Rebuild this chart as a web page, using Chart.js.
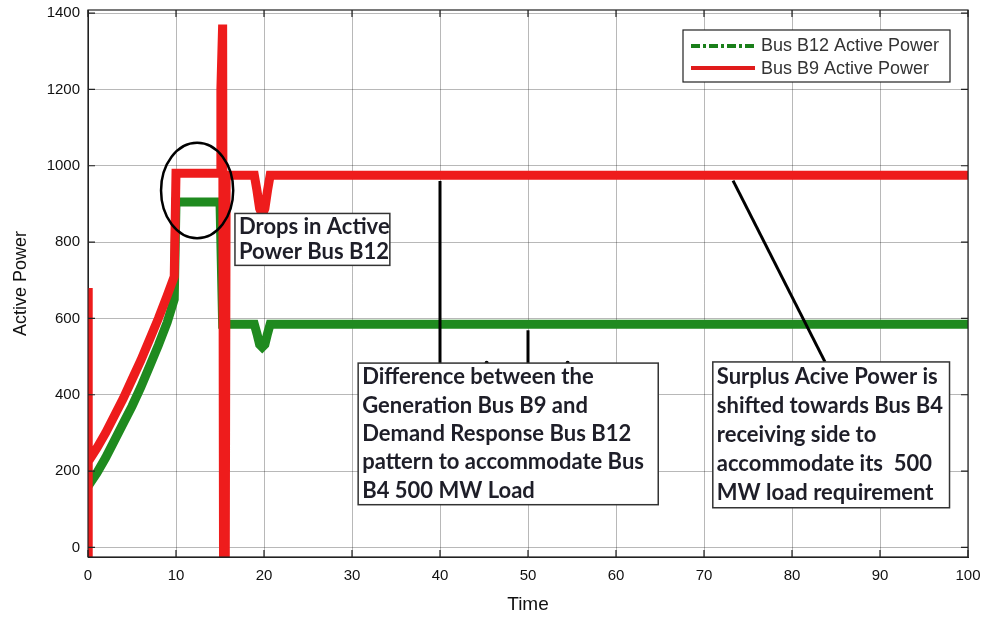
<!DOCTYPE html>
<html>
<head>
<meta charset="utf-8">
<script src="https://cdn.jsdelivr.net/npm/chart.js@4.4.1/dist/chart.umd.min.js"></script>
<style>
  html, body { margin:0; padding:0; background:#fff; }
  #wrap { width:987px; height:620px; }
</style>
</head>
<body>
<div id="wrap"><canvas id="powerChart" width="987" height="620"></canvas></div>
<script>
// Bus B9 (generation) active power vs time
const timeB9  = [0, 0, 0.05, 1, 2, 3, 4, 5, 6, 7, 8, 9, 9.8, 10, 15, 15.1, 15.3, 15.4, 15.6, 15.7,
                 18.9, 19.2, 19.5, 19.8, 20.1, 20.4, 20.7, 100];
const powerB9 = [-25, 680, 225, 260, 300, 345, 390, 440, 490, 545, 600, 660, 710, 980, 980, 1200, 1370, -25, -25, 975,
                 975, 935, 888, 872, 888, 935, 975, 975];

// Bus B12 (demand response) active power vs time
const timeB12  = [0, 1, 2, 3, 4, 5, 6, 7, 8, 9, 9.8, 10, 15, 15.3, 18.9, 19.2, 19.5, 19.8, 20.1, 20.4, 20.7, 100];
const powerB12 = [160, 195, 235, 280, 325, 370, 420, 475, 530, 590, 650, 905, 905, 585, 585, 560, 532, 525, 532, 560, 585, 585];

const seriesNames = ['Bus B12 Active Power', 'Bus B9 Active Power'];
const yTicks = [0, 200, 400, 600, 800, 1000, 1200, 1400];

// callouts, in data units
const ellipseMark = { t: 12.4, v: 935, rt: 4.1, rv: 125 };
const dropsBox = { t0: 16.7, t1: 34.3, v0: 875, v1: 739,
  lines: ['Drops in Active', 'Power Bus B12'] };
const diffBox = { t0: 30.7, t1: 64.8, v0: 483, v1: 112,
  lines: ['Difference between the', 'Generation Bus B9 and', 'Demand Response Bus B12',
          'pattern to accommodate Bus', 'B4 500 MW Load'] };
const surplusBox = { t0: 71.0, t1: 97.9, v0: 486, v1: 104,
  lines: ['Surplus Acive Power is', 'shifted towards Bus B4', 'receiving side to',
          'accommodate its  500', 'MW load requirement'] };
const leaders = [
  [40, 478, 40, 960],
  [50, 478, 50, 569],
  [83.75, 486, 73.3, 961]
];
const dots = [[45.3, 484], [54.5, 484]];

const pts = (ts, vs) => ts.map((t, i) => ({ x: t, y: vs[i] }));

function textBox(ctx, xs, ys, b) {
  const x0 = xs.getPixelForValue(b.t0), x1 = xs.getPixelForValue(b.t1);
  const y0 = ys.getPixelForValue(b.v0), y1 = ys.getPixelForValue(b.v1);
  ctx.fillStyle = '#fff';
  ctx.fillRect(x0, y0, x1 - x0, y1 - y0);
  ctx.strokeStyle = '#333';
  ctx.lineWidth = 1.5;
  ctx.strokeRect(x0, y0, x1 - x0, y1 - y0);
  ctx.fillStyle = '#1e1e28';
  ctx.font = 'bold 22px Lato';
  ctx.textBaseline = 'middle';
  ctx.textAlign = 'left';
  const step = (y1 - y0) / b.lines.length;
  b.lines.forEach((s, i) => ctx.fillText(s, x0 + 4, y0 + step * (i + 0.5)));
}

const callouts = {
  id: 'callouts',
  afterDatasetsDraw(chart) {
    const { ctx, chartArea: a } = chart;
    const xs = chart.scales.x, ys = chart.scales.y;
    ctx.save();
    // leader lines
    ctx.strokeStyle = '#000';
    ctx.lineWidth = 3;
    leaders.forEach(l => {
      ctx.beginPath();
      ctx.moveTo(xs.getPixelForValue(l[0]), ys.getPixelForValue(l[1]));
      ctx.lineTo(xs.getPixelForValue(l[2]), ys.getPixelForValue(l[3]));
      ctx.stroke();
    });
    ctx.fillStyle = '#000';
    dots.forEach(d => {
      ctx.beginPath();
      ctx.arc(xs.getPixelForValue(d[0]), ys.getPixelForValue(d[1]), 2, 0, Math.PI * 2);
      ctx.fill();
    });
    // ellipse around the B12 drop
    const cx = xs.getPixelForValue(ellipseMark.t), cy = ys.getPixelForValue(ellipseMark.v);
    const rx = xs.getPixelForValue(ellipseMark.t + ellipseMark.rt) - cx;
    const ry = cy - ys.getPixelForValue(ellipseMark.v + ellipseMark.rv);
    ctx.beginPath();
    ctx.ellipse(cx, cy, rx, ry, 0, 0, Math.PI * 2);
    ctx.lineWidth = 2.5;
    ctx.stroke();

    textBox(ctx, xs, ys, dropsBox);
    textBox(ctx, xs, ys, diffBox);
    textBox(ctx, xs, ys, surplusBox);

    // frame and inward tick marks
    ctx.strokeStyle = '#222';
    ctx.lineWidth = 1.2;
    ctx.strokeRect(a.left, a.top, a.right - a.left, a.bottom - a.top);
    ctx.beginPath();
    xs.ticks.forEach(t => {
      const px = xs.getPixelForValue(t.value);
      ctx.moveTo(px, a.bottom); ctx.lineTo(px, a.bottom - 7);
      ctx.moveTo(px, a.top); ctx.lineTo(px, a.top + 7);
    });
    ys.ticks.forEach(t => {
      const py = ys.getPixelForValue(t.value);
      ctx.moveTo(a.left, py); ctx.lineTo(a.left + 7, py);
      ctx.moveTo(a.right, py); ctx.lineTo(a.right - 7, py);
    });
    ctx.stroke();

    // legend
    const lx = a.right - 285, ly = a.top + 20, lw = 267, lh = 52;
    ctx.fillStyle = '#fff';
    ctx.fillRect(lx, ly, lw, lh);
    ctx.strokeStyle = '#222';
    ctx.lineWidth = 1.2;
    ctx.strokeRect(lx, ly, lw, lh);
    ctx.lineWidth = 4;
    ctx.strokeStyle = '#1a7f1a';
    ctx.setLineDash([9, 3, 3, 3]);
    ctx.beginPath(); ctx.moveTo(lx + 8, ly + 16); ctx.lineTo(lx + 72, ly + 16); ctx.stroke();
    ctx.setLineDash([]);
    ctx.strokeStyle = '#e01b1b';
    ctx.beginPath(); ctx.moveTo(lx + 8, ly + 38); ctx.lineTo(lx + 72, ly + 38); ctx.stroke();
    ctx.fillStyle = '#333';
    ctx.font = '18px "Liberation Sans"';
    ctx.textBaseline = 'middle';
    ctx.fillText(seriesNames[0], lx + 78, ly + 16);
    ctx.fillText(seriesNames[1], lx + 78, ly + 39);
    ctx.restore();
  }
};

new Chart(document.getElementById('powerChart'), {
  type: 'line',
  data: {
    datasets: [
      { label: seriesNames[0], data: pts(timeB12, powerB12), borderColor: '#1f8a1f',
        borderWidth: 9, pointRadius: 0, tension: 0, order: 1 },
      { label: seriesNames[1], data: pts(timeB9, powerB9), borderColor: '#ee1c1c',
        borderWidth: 9, pointRadius: 0, tension: 0, order: 0 }
    ]
  },
  options: {
    responsive: false,
    animation: false,
    layout: { padding: { top: 10, right: 19, left: 6, bottom: 0 } },
    plugins: { legend: { display: false }, tooltip: { enabled: false } },
    scales: {
      x: {
        type: 'linear', min: 0, max: 100,
        ticks: { stepSize: 10, color: '#111', padding: 10, font: { family: 'Liberation Sans', size: 15 } },
        grid: { color: 'rgba(0,0,0,0.28)', drawTicks: false },
        border: { color: '#222' },
        title: { display: true, text: 'Time', color: '#111', padding: { top: 6 },
          font: { family: 'Liberation Sans', size: 19 } },
        afterFit: s => { s.height = 63; s.paddingLeft = 0; s.paddingRight = 0; }
      },
      y: {
        type: 'linear', min: -25, max: 1408,
        afterBuildTicks: s => { s.ticks = yTicks.map(v => ({ value: v })); },
        ticks: { color: '#111', padding: 8, font: { family: 'Liberation Sans', size: 15 },
          callback: v => String(v) },
        grid: { color: 'rgba(0,0,0,0.28)', drawTicks: false },
        border: { color: '#222' },
        title: { display: true, text: 'Active Power', color: '#111', padding: { bottom: 4 },
          font: { family: 'Liberation Sans', size: 18 } },
        afterFit: s => { s.width = 82; s.paddingTop = 0; s.paddingBottom = 0; }
      }
    }
  },
  plugins: [callouts]
});
</script>
</body>
</html>
